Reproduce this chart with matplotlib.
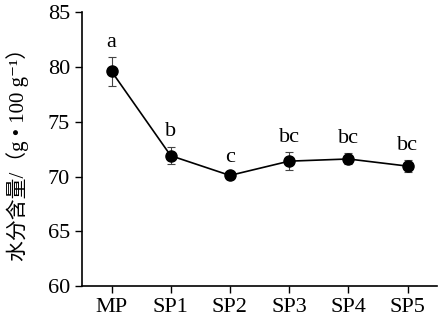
import matplotlib.pyplot as plt

# Data
groups = ['MP', 'SP1', 'SP2', 'SP3', 'SP4', 'SP5']
moisture = [79.6, 71.9, 70.1, 71.4, 71.6, 70.95]
errors = [1.3, 0.8, 0.3, 0.8, 0.5, 0.55]
letters = ['a', 'b', 'c', 'bc', 'bc', 'bc']

plt.rcParams['font.family'] = ['Liberation Serif', 'Noto Sans CJK SC', 'DejaVu Serif']

fig = plt.figure(figsize=(4.38, 3.27), dpi=100)
ax = fig.add_axes([0.187, 0.125, 0.811, 0.838])

x = list(range(len(groups)))
ax.errorbar(x, moisture, yerr=errors, color='black', marker='o', markersize=8,
            linewidth=1.2, elinewidth=0.8, ecolor='#444444', capsize=3, capthick=0.8)

# Significance letters
for xi, yi, ei, lab in zip(x, moisture, errors, letters):
    ax.text(xi, yi + ei + 0.5, lab, ha='center', va='bottom', fontsize=16)

ax.set_xlim(-0.5, 5.5)
ax.set_ylim(60, 85)
ax.set_yticks([60, 65, 70, 75, 80, 85])
ax.set_xticks(x)
ax.set_xticklabels(groups)
ax.tick_params(labelsize=16, width=1, length=5, direction='out')
ax.set_ylabel('水分含量/（g • 100 g⁻¹）', fontsize=15)
ax.yaxis.set_label_coords(-0.15, 0.5)

ax.spines['top'].set_visible(False)
ax.spines['right'].set_visible(False)
ax.spines['left'].set_linewidth(1.2)
ax.spines['bottom'].set_linewidth(1.2)

fig.savefig('out.png', dpi=100)
